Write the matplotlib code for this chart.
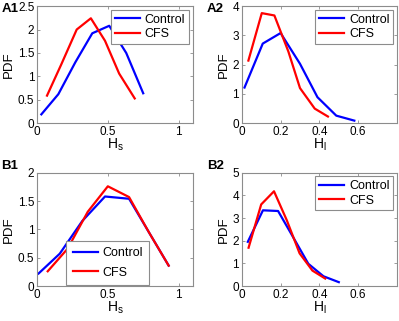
import matplotlib
matplotlib.use('Agg')
import matplotlib.pyplot as plt
from matplotlib.ticker import FormatStrFormatter

plt.rcParams['font.family'] = ['Liberation Sans', 'DejaVu Sans']
plt.rcParams['mathtext.fontset'] = 'custom'
plt.rcParams['mathtext.rm'] = 'Liberation Sans'

# A1: H_s, first recording
a1_ctrl_x = [0.03, 0.15, 0.27, 0.39, 0.51, 0.63, 0.75]
a1_ctrl_y = [0.19, 0.62, 1.30, 1.92, 2.08, 1.50, 0.64]
a1_cfs_x = [0.07, 0.17, 0.28, 0.38, 0.48, 0.58, 0.69]
a1_cfs_y = [0.59, 1.25, 2.00, 2.24, 1.76, 1.06, 0.53]

# A2: H_l
a2_ctrl_x = [0.014, 0.108, 0.20, 0.30, 0.39, 0.487, 0.58]
a2_ctrl_y = [1.22, 2.72, 3.08, 2.03, 0.89, 0.26, 0.09]
a2_cfs_x = [0.034, 0.103, 0.168, 0.24, 0.30, 0.376, 0.444]
a2_cfs_y = [2.14, 3.76, 3.68, 2.45, 1.20, 0.50, 0.23]

# B1: H_s
b1_ctrl_x = [0.01, 0.16, 0.32, 0.48, 0.65, 0.79, 0.93]
b1_ctrl_y = [0.22, 0.57, 1.15, 1.58, 1.54, 0.95, 0.36]
b1_cfs_x = [0.075, 0.216, 0.358, 0.50, 0.65, 0.79, 0.93]
b1_cfs_y = [0.26, 0.66, 1.31, 1.76, 1.57, 0.95, 0.36]

# B2: H_l
b2_ctrl_x = [0.031, 0.109, 0.187, 0.265, 0.343, 0.421, 0.50]
b2_ctrl_y = [1.95, 3.34, 3.31, 2.15, 0.98, 0.43, 0.17]
b2_cfs_x = [0.035, 0.10, 0.166, 0.232, 0.298, 0.364, 0.43]
b2_cfs_y = [1.69, 3.60, 4.18, 2.90, 1.44, 0.68, 0.33]

panels = [
    ('A1', [0.093, 0.616, 0.390, 0.365], a1_ctrl_x, a1_ctrl_y, a1_cfs_x, a1_cfs_y,
     (0, 1.1), [0, 0.5, 1], (0, 2.5), [0, 0.5, 1, 1.5, 2, 2.5], 's', 'upper right'),
    ('A2', [0.606, 0.616, 0.389, 0.365], a2_ctrl_x, a2_ctrl_y, a2_cfs_x, a2_cfs_y,
     (0, 0.8), [0, 0.2, 0.4, 0.6], (0, 4), [0, 1, 2, 3, 4], 'l', 'upper right'),
    ('B1', [0.093, 0.109, 0.390, 0.353], b1_ctrl_x, b1_ctrl_y, b1_cfs_x, b1_cfs_y,
     (0, 1.1), [0, 0.5, 1], (0, 2), [0, 0.5, 1, 1.5, 2], 's', 'lower center'),
    ('B2', [0.606, 0.109, 0.389, 0.353], b2_ctrl_x, b2_ctrl_y, b2_cfs_x, b2_cfs_y,
     (0, 0.8), [0, 0.2, 0.4, 0.6], (0, 5), [0, 1, 2, 3, 4, 5], 'l', 'upper right'),
]

fig = plt.figure(figsize=(3.99, 3.21), dpi=100)
grey = '#8c8c8c'

for name, pos, cx, cy, fx, fy, xl, xt, yl, yt, sub, loc in panels:
    ax = fig.add_axes(pos)
    ax.plot(cx, cy, color='#0000ff', lw=1.6, label='Control')
    ax.plot(fx, fy, color='#ff0000', lw=1.6, label='CFS')
    ax.set_xlim(*xl)
    ax.set_ylim(*yl)
    ax.set_xticks(xt)
    ax.set_yticks(yt)
    ax.xaxis.set_major_formatter(FormatStrFormatter('%g'))
    ax.yaxis.set_major_formatter(FormatStrFormatter('%g'))
    ax.tick_params(direction='in', length=2.5, width=0.6, color=grey,
                   labelsize=8.5, pad=2, top=True, right=True)
    for s in ax.spines.values():
        s.set_color(grey)
        s.set_linewidth(0.8)
    ax.set_xlabel(r'$\mathregular{H_%s}$' % sub, fontsize=10, labelpad=-1)
    ax.set_ylabel('PDF', fontsize=9.5, labelpad=2)
    if loc == 'lower center':
        leg = ax.legend(loc='lower center', bbox_to_anchor=(0.455, 0.0), fontsize=9,
                        handlelength=2.0, borderpad=0.5, labelspacing=0.6,
                        handletextpad=0.4, fancybox=False, framealpha=1,
                        borderaxespad=0.1)
    else:
        leg = ax.legend(loc=loc, fontsize=9, handlelength=2.0, borderpad=0.3,
                        labelspacing=0.2, handletextpad=0.4, fancybox=False,
                        framealpha=1, borderaxespad=0.3)
    leg.get_frame().set_edgecolor(grey)
    leg.get_frame().set_linewidth(0.8)
    fx0 = 0.004 if pos[0] < 0.5 else 0.518
    fy0 = 0.99 if name[0] == 'A' else 0.502
    fig.text(fx0, fy0, name, fontsize=9.5, fontweight='bold', va='top', ha='left')

fig.savefig('out.png', dpi=100)
